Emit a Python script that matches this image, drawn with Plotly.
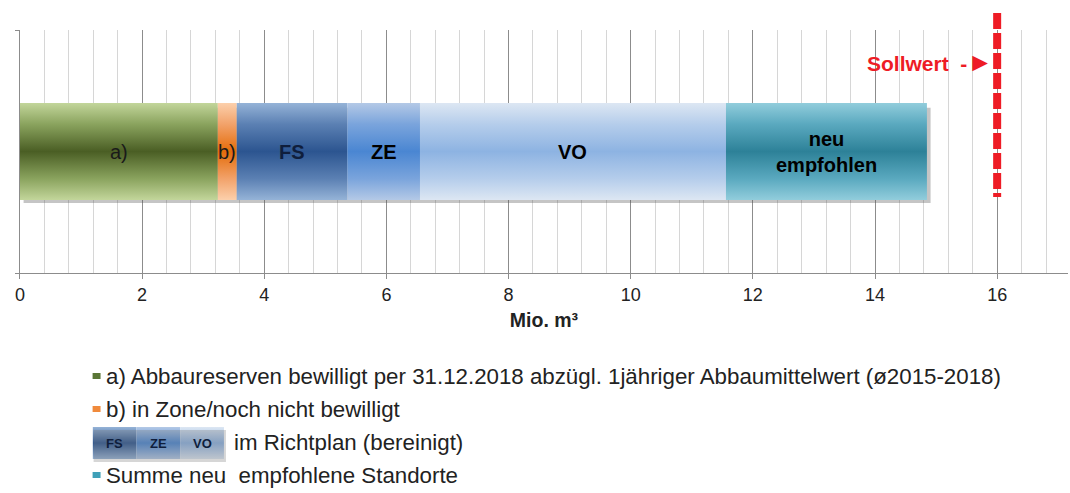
import plotly.graph_objects as go

# ---------------- data ----------------
segments = ["a)", "b)", "FS", "ZE", "VO", "neu<br>empfohlen"]
values = [3.24, 0.31, 1.81, 1.19, 5.01, 3.29]
sollwert = 16
x_ticks = [0, 2, 4, 6, 8, 10, 12, 14, 16]
legend_texts = [
    "a) Abbaureserven bewilligt per 31.12.2018 abzügl. 1jähriger Abbaumittelwert (ø2015-2018)",
    "b) in Zone/noch nicht bewilligt",
    "im Richtplan (bereinigt)",
    "Summe neu  empfohlene Standorte",
]
legend_box_labels = ["FS", "ZE", "VO"]
legend_box_values = [1, 1, 1]

# ---------------- styles ----------------
light = ["#c3d69b", "#fcd0ac", "#95b3d7", "#b4c9e6", "#dde7f3", "#92cddc"]
mid = ["#8aa35e", "#f2a26a", "#5b80b3", "#7aa4dc", "#b5cdeb", "#5aa9bf"]
dark = ["#4a5e24", "#e46c0a", "#2c5590", "#4a86d2", "#8db3e2", "#2d8198"]
label_bold = [False, False, True, True, True, True]
label_color = ["#1a1a1a", "#1a1a1a", "#0f1e3c", "#000000", "#000000", "#000000"]
legend_marker_colors = ["#5a7636", "#f08a3c", None, "#3fa0b8"]

W, H = 1070, 493
FONT = "Liberation Sans, Arial, sans-serif"
XMAX = 17.16
half = 0.2


def px_x(p):
    return p / W


def px_y(p):
    return 1 - p / H


fig = go.Figure()

# subtle shadow
total = sum(values)
fig.add_trace(go.Scatter(
    x=[0.06, total + 0.06, total + 0.06, 0.06, 0.06],
    y=[-half - 0.012, -half - 0.012, half - 0.02, half - 0.02, -half - 0.012],
    fill="toself", fillcolor="rgba(90,90,90,0.35)", mode="lines",
    line=dict(width=0), hoverinfo="skip", showlegend=False,
))

start = 0.0
for i, v in enumerate(values):
    x0, x1 = start, start + v
    fig.add_trace(go.Scatter(
        x=[x0, x1, x1, x0, x0],
        y=[-half, -half, half, half, -half],
        fill="toself",
        fillgradient=dict(
            type="vertical",
            colorscale=[[0, light[i]], [0.22, mid[i]], [0.5, dark[i]],
                        [0.78, mid[i]], [1, light[i]]],
        ),
        mode="lines", line=dict(width=0), hoverinfo="skip", showlegend=False,
    ))
    fig.add_annotation(
        x=(x0 + x1) / 2, y=0, xref="x", yref="y",
        text=("<b>%s</b>" % segments[i]) if label_bold[i] else segments[i],
        showarrow=False, font=dict(family=FONT, size=20, color=label_color[i]),
    )
    start = x1

# Sollwert line
fig.add_shape(type="line", xref="x", yref="paper",
              x0=sollwert, x1=sollwert, y0=px_y(13), y1=px_y(197),
              line=dict(color="#ee1c25", width=8, dash="16px,4px"))
fig.add_annotation(x=sollwert, y=px_y(62), xref="x", yref="paper",
                   xanchor="right", yanchor="middle", xshift=-2,
                   text="<b>Sollwert  -</b><span style='font-size:26px'>►</span>",
                   showarrow=False,
                   font=dict(family=FONT, size=21, color="#ee1c25"))

# ---------------- custom legend ----------------
rows_y = [376, 409, 442, 475]
for k, txt in enumerate(legend_texts):
    if legend_marker_colors[k] is not None:
        fig.add_shape(type="rect", xref="paper", yref="paper",
                      x0=px_x(88), x1=px_x(96),
                      y0=px_y(rows_y[k] + 3), y1=px_y(rows_y[k] - 3),
                      fillcolor=legend_marker_colors[k], line=dict(width=0))
        tx = 99
    else:
        tx = 228
    fig.add_annotation(x=px_x(tx), y=px_y(rows_y[k]), xref="paper", yref="paper",
                       xanchor="left", yanchor="middle", text=txt, showarrow=False,
                       font=dict(family=FONT, size=22.3, color="#222222"))

# legend box (FS/ZE/VO) on its own small axes
fig.add_shape(type="rect", xref="paper", yref="paper",
              x0=px_x(89), x1=px_x(222), y0=px_y(462), y1=px_y(430),
              fillcolor="rgba(120,120,120,0.3)", line=dict(width=0))
lstart = 0.0
for j, lv in enumerate(legend_box_values):
    i = 2 + j
    x0, x1 = lstart, lstart + lv
    fig.add_trace(go.Scatter(
        x=[x0, x1, x1, x0, x0], y=[0, 0, 1, 1, 0],
        xaxis="x2", yaxis="y2", fill="toself",
        fillgradient=dict(type="vertical",
                          colorscale=[[0, light[i]], [0.5, dark[i]], [1, light[i]]]),
        mode="lines", line=dict(width=0), hoverinfo="skip", showlegend=False,
    ))
    fig.add_annotation(x=(x0 + x1) / 2, y=0.5, xref="x2", yref="y2",
                       text="<b>%s</b>" % legend_box_labels[j], showarrow=False,
                       font=dict(family=FONT, size=13, color="#0f1e3c"))
    lstart = x1

fig.update_layout(
    width=W, height=H,
    margin=dict(l=0, r=0, t=0, b=0),
    paper_bgcolor="white", plot_bgcolor="white",
    showlegend=False,
    xaxis=dict(
        domain=[px_x(15), px_x(1068)], range=[0, XMAX],
        tickvals=x_ticks, ticktext=[str(t) for t in x_ticks],
        showgrid=True, gridcolor="#8c8c8c", gridwidth=1,
        minor=dict(dtick=0.4, tick0=0, showgrid=True, gridcolor="#d6d6d6", gridwidth=1),
        showline=True, linecolor="#8c8c8c", linewidth=1,
        ticks="outside", ticklen=5, tickcolor="#8c8c8c",
        tickfont=dict(family=FONT, size=18, color="#222222"),
        title=dict(text="<b>Mio. m³</b>", standoff=9,
                   font=dict(family=FONT, size=19.5, color="#222222")),
        zeroline=False, fixedrange=True,
    ),
    yaxis=dict(
        domain=[px_y(273), px_y(30)], range=[-0.5, 0.5],
        tickvals=[-0.5, 0.5], showticklabels=False,
        ticks="outside", ticklen=4, tickcolor="#8c8c8c",
        showgrid=False, zeroline=False,
        showline=True, linecolor="#8c8c8c", linewidth=1, fixedrange=True,
    ),
    xaxis2=dict(domain=[px_x(88), px_x(220)], range=[0, 3], visible=False,
                anchor="y2", fixedrange=True),
    yaxis2=dict(domain=[px_y(459), px_y(427)], range=[0, 1], visible=False,
                anchor="x2", fixedrange=True),
)

fig.write_html(
    "out.html",
    config={"displayModeBar": False},
    post_script="document.body.style.margin='0';document.body.style.overflow='hidden';",
)
